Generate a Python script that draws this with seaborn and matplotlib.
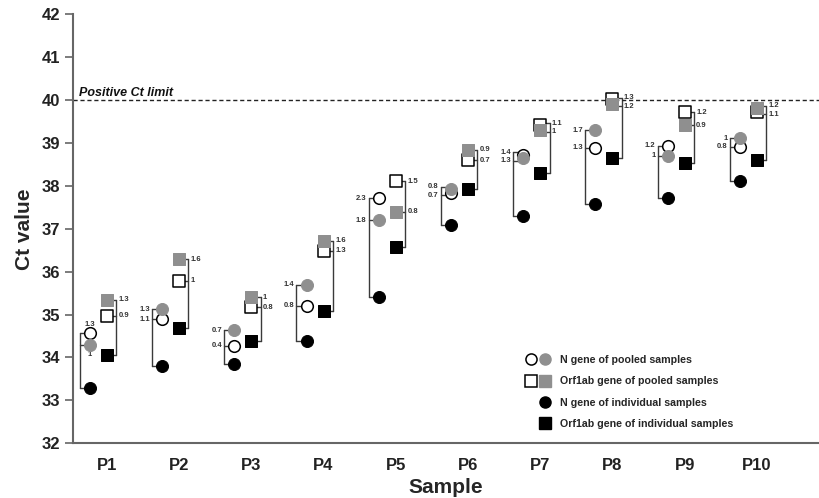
import numpy as np
import pandas as pd
import matplotlib.pyplot as plt
import seaborn as sns
from matplotlib.lines import Line2D
from matplotlib.legend_handler import HandlerTuple

# Data
samples = ['P1', 'P2', 'P3', 'P4', 'P5', 'P6', 'P7', 'P8', 'P9', 'P10']

# N gene: pooled (open / grey) and individual (black)
n_open = [34.58, 34.89, 34.27, 35.21, 37.71, 37.83, 38.73, 38.89, 38.94, 38.91]
n_gray = [34.28, 35.12, 34.64, 35.70, 37.20, 37.93, 38.65, 39.30, 38.70, 39.11]
n_indiv = [33.28, 33.80, 33.84, 34.39, 35.41, 37.09, 37.30, 37.58, 37.71, 38.12]

# Orf1ab gene: pooled (open / grey) and individual (black)
orf_open = [34.97, 35.79, 35.17, 36.49, 38.11, 38.60, 39.42, 40.02, 39.72, 39.73]
orf_gray = [35.35, 36.29, 35.40, 36.72, 37.40, 38.84, 39.30, 39.90, 39.41, 39.81]
orf_indiv = [34.05, 34.68, 34.39, 35.08, 36.57, 37.92, 38.31, 38.66, 38.53, 38.60]

# Ct differences printed next to the brackets
n_open_lab = ['1.3', '1.1', '0.4', '0.8', '2.3', '0.7', '1.4', '1.3', '1.2', '0.8']
n_gray_lab = ['1', '1.3', '0.7', '1.4', '1.8', '0.8', '1.3', '1.7', '1', '1']
orf_open_lab = ['0.9', '1', '0.8', '1.3', '1.5', '0.7', '1.1', '1.3', '1.2', '1.1']
orf_gray_lab = ['1.3', '1.6', '1', '1.6', '0.8', '0.9', '1', '1.2', '0.9', '1.2']

ct_limit = 40

sns.set_theme(style='ticks')
plt.rcParams['font.family'] = ['Liberation Sans', 'DejaVu Sans']

GRAY = '#8f8f8f'
LINE = '#3a3a3a'

x = np.arange(len(samples))
x_n = x - 0.235
x_orf = x.astype(float)

fig = plt.figure(figsize=(8.19, 4.98), dpi=100)
ax = fig.add_axes([0.089, 0.110, 0.911, 0.861])


def spread(y1, y2, gap=0.2):
    # push two label positions apart when they overlap
    if abs(y1 - y2) >= gap:
        return y1, y2
    mid = (y1 + y2) / 2
    if y1 >= y2:
        return mid + gap / 2, mid - gap / 2
    return mid - gap / 2, mid + gap / 2


# brackets linking pooled to individual values
for i in range(len(samples)):
    # N gene bracket on the left
    xl = x_n[i] - 0.14
    ya, yb = spread(n_open[i], n_gray[i])
    top = max(ya, yb)
    ax.plot([xl, xl], [n_indiv[i], top], color=LINE, lw=1.0, zorder=1)
    for yy in (ya, yb, n_indiv[i]):
        ax.plot([xl, x_n[i]], [yy, yy], color=LINE, lw=1.0, zorder=1)
    if i == 0:
        ax.text(x_n[i], n_open[i] + 0.2, n_open_lab[i], ha='center', va='center',
                fontsize=5.5, fontweight='bold', color='#333333')
        ax.text(x_n[i], n_gray[i] - 0.22, n_gray_lab[i], ha='center', va='center',
                fontsize=5.5, fontweight='bold', color='#333333')
    else:
        ax.text(xl - 0.03, ya, n_open_lab[i], ha='right', va='center',
                fontsize=5.5, fontweight='bold', color='#333333')
        ax.text(xl - 0.03, yb, n_gray_lab[i], ha='right', va='center',
                fontsize=5.5, fontweight='bold', color='#333333')

    # Orf1ab bracket on the right
    xr = x_orf[i] + 0.13
    ya, yb = spread(orf_open[i], orf_gray[i])
    top = max(ya, yb)
    ax.plot([xr, xr], [orf_indiv[i], top], color=LINE, lw=1.0, zorder=1)
    for yy in (ya, yb, orf_indiv[i]):
        ax.plot([x_orf[i], xr], [yy, yy], color=LINE, lw=1.0, zorder=1)
    ax.text(xr + 0.03, ya, orf_open_lab[i], ha='left', va='center',
            fontsize=5.5, fontweight='bold', color='#333333')
    ax.text(xr + 0.03, yb, orf_gray_lab[i], ha='left', va='center',
            fontsize=5.5, fontweight='bold', color='#333333')

# markers (grey pooled drawn over the open ones, as in the original)
sns.scatterplot(x=x_n, y=n_indiv, marker='o', s=75, color='black', edgecolor='black', ax=ax, zorder=3)
sns.scatterplot(x=x_n, y=n_open, marker='o', s=70, color='white', edgecolor='black', linewidth=1.1, ax=ax, zorder=3)
sns.scatterplot(x=x_n, y=n_gray, marker='o', s=75, color=GRAY, edgecolor=GRAY, ax=ax, zorder=4)

sns.scatterplot(x=x_orf, y=orf_indiv, marker='s', s=80, color='black', edgecolor='black', ax=ax, zorder=3)
sns.scatterplot(x=x_orf, y=orf_open, marker='s', s=75, color='white', edgecolor='black', linewidth=1.1, ax=ax, zorder=3)
sns.scatterplot(x=x_orf, y=orf_gray, marker='s', s=80, color=GRAY, edgecolor=GRAY, ax=ax, zorder=4)

# positive limit
ax.axhline(ct_limit, color='#222222', lw=1.0, ls=(0, (3, 2)), zorder=2)
ax.text(-0.38, ct_limit + 0.03, 'Positive Ct limit', ha='left', va='bottom',
        fontsize=9, fontweight='bold', fontstyle='italic', color='#111111')

ax.set_xlim(-0.47, 9.86)
ax.set_ylim(32, 42)
ax.set_yticks(range(32, 43))
ax.set_xticks(x)
ax.set_xticklabels(samples)
ax.tick_params(axis='x', length=0, pad=11, labelsize=12)
ax.tick_params(axis='y', length=6, width=1.2, color='#666666', labelsize=12, pad=3)
for lab in ax.get_xticklabels() + ax.get_yticklabels():
    lab.set_fontweight('bold')
    lab.set_color('#222222')

sns.despine(ax=ax)
ax.spines['left'].set_color('#666666')
ax.spines['bottom'].set_color('#666666')
ax.spines['left'].set_linewidth(1.5)
ax.spines['bottom'].set_linewidth(1.5)

ax.set_xlabel('Sample', fontsize=15, fontweight='bold', labelpad=3)
ax.set_ylabel('Ct value', fontsize=15, fontweight='bold', labelpad=6)

# legend with paired markers
blank = Line2D([], [], linestyle='none', marker='')
h_open_c = Line2D([], [], ls='none', marker='o', ms=8, mfc='white', mec='black', mew=1.1)
h_gray_c = Line2D([], [], ls='none', marker='o', ms=8, mfc=GRAY, mec=GRAY)
h_open_s = Line2D([], [], ls='none', marker='s', ms=8, mfc='white', mec='black', mew=1.1)
h_gray_s = Line2D([], [], ls='none', marker='s', ms=8, mfc=GRAY, mec=GRAY)
h_blk_c = Line2D([], [], ls='none', marker='o', ms=8, mfc='black', mec='black')
h_blk_s = Line2D([], [], ls='none', marker='s', ms=8, mfc='black', mec='black')

leg = ax.legend(
    [(h_open_c, h_gray_c), (h_open_s, h_gray_s), (blank, h_blk_c), (blank, h_blk_s)],
    ['N gene of pooled samples', 'Orf1ab gene of pooled samples',
     'N gene of individual samples', 'Orf1ab gene of individual samples'],
    handler_map={tuple: HandlerTuple(ndivide=None, pad=0.4)},
    loc='upper left', bbox_to_anchor=(0.594, 0.228), frameon=False,
    prop={'size': 7.7, 'weight': 'bold'}, labelspacing=1.05, handlelength=2.3,
    handletextpad=0.9,
)

fig.savefig('out.png', dpi=100)
